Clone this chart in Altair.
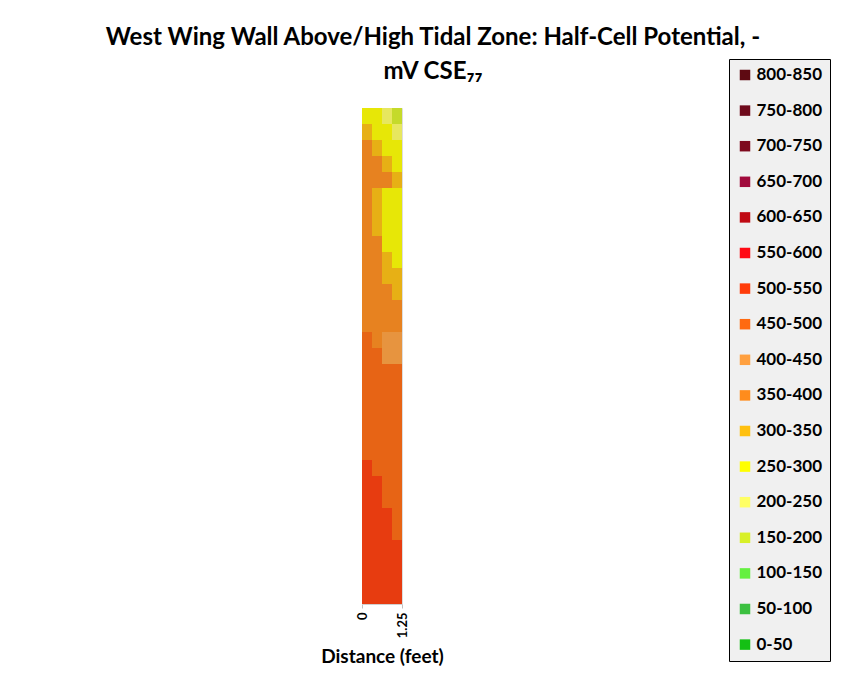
import altair as alt
import pandas as pd

# Half-cell potential readings (-mV CSE), rows from top of wall to bottom,
# four cells across the 1.25 ft width
cols = [0.0, 0.3125, 0.625, 0.9375]
col_w = 0.3125
rows = [
    [275, 275, 225, 175],
    [325, 275, 275, 225],
    [375, 325, 275, 275],
    [375, 375, 325, 275],
    [375, 375, 375, 325],
    [375, 325, 275, 275],
    [375, 325, 275, 275],
    [375, 325, 275, 275],
    [375, 375, 275, 275],
    [375, 375, 325, 275],
    [375, 375, 325, 325],
    [375, 375, 375, 325],
    [375, 375, 375, 375],
    [375, 375, 375, 375],
    [475, 375, 425, 425],
    [475, 475, 425, 425],
    [475, 475, 475, 475],
    [475, 475, 475, 475],
    [475, 475, 475, 475],
    [475, 475, 475, 475],
    [475, 475, 475, 475],
    [475, 475, 475, 475],
    [525, 475, 475, 475],
    [525, 525, 475, 475],
    [525, 525, 475, 475],
    [525, 525, 525, 475],
    [525, 525, 525, 475],
    [525, 525, 525, 525],
    [525, 525, 525, 525],
    [525, 525, 525, 525],
    [525, 525, 525, 525],
]

bands = ["800-850", "750-800", "700-750", "650-700", "600-650", "550-600",
         "500-550", "450-500", "400-450", "350-400", "300-350", "250-300",
         "200-250", "150-200", "100-150", "50-100", "0-50"]
band_colors = ["#5E0A12", "#6E0A1C", "#7E0A1E", "#A00A3C", "#C00A14", "#FF0A14",
               "#FF3C0A", "#FF6A10", "#FFA040", "#FF8C1C", "#FFC010", "#FFFF00",
               "#FFFF64", "#D8F028", "#64F040", "#3CC040", "#14C014"]

records = []
for r, vals in enumerate(rows):
    for c, v in zip(cols, vals):
        lo = int(v // 50) * 50
        records.append({"x": c, "x2": c + col_w, "y": r, "y2": r + 1,
                        "mv": v, "band": f"{lo}-{lo + 50}"})
df = pd.DataFrame(records)

n_rows = len(rows)

x_enc = alt.X("x:Q", scale=alt.Scale(domain=[0, 1.25], nice=False, zero=False),
              axis=alt.Axis(values=[0, 1.25], labelAngle=-90,
                            labelExpr="datum.value == 0 ? '0' : format(datum.value, '.2f')",
                            title="Distance (feet)", grid=False, labelFont="Lato",
                            labelFontWeight="bold", labelFontSize=13, labelColor="#000000",
                            titleFont="Lato", titleFontSize=19, titleFontWeight="bold",
                            titleColor="#000000", domainColor="#D0D0D0", tickColor="#C0C0C0",
                            tickSize=4, labelPadding=4, titlePadding=10))
y_enc = alt.Y("y:Q", scale=alt.Scale(domain=[0, n_rows], reverse=True, nice=False, zero=False),
              axis=None)

# dark underlay gives the shaded look of the surface
shade = alt.Chart(df).mark_rect(color="#383838", strokeWidth=0).encode(
    x=x_enc, x2="x2:Q", y=y_enc, y2="y2:Q"
)

cells = alt.Chart(df).mark_rect(opacity=0.88, strokeWidth=0).encode(
    x=x_enc,
    x2="x2:Q",
    y=y_enc,
    y2="y2:Q",
    color=alt.Color("band:N", scale=alt.Scale(domain=bands, range=band_colors),
                    legend=alt.Legend(title=None, orient="none", legendX=367, legendY=-49,
                                      fillColor="#F0F0F0", strokeColor="#000000",
                                      padding=7.5, rowPadding=17.6, symbolType="square",
                                      symbolSize=110, symbolOpacity=1, symbolStrokeWidth=0,
                                      labelFont="Lato", labelFontSize=17,
                                      labelFontWeight="bold", labelColor="#000000",
                                      labelOffset=3, labelLimit=200)),
    tooltip=["mv:Q", "band:N"],
)

chart = alt.layer(shade, cells).properties(
    width=40,
    height=496,
    padding={"left": 362, "top": 108, "right": 452, "bottom": 82},
    autosize=alt.AutoSizeParams(type="none"),
    title=alt.TitleParams(
        text=["West Wing Wall Above/High Tidal Zone: Half-Cell Potential, -", "mV CSE₇₇"],
        font="Lato", fontSize=24, fontWeight="bold", color="#000000",
        anchor="middle", dx=51, dy=49, offset=24, lineHeight=34,
    ),
).configure_view(stroke=None).configure(background="#FFFFFF")

chart.save("out.html", embed_options={"renderer": "svg", "actions": False})
